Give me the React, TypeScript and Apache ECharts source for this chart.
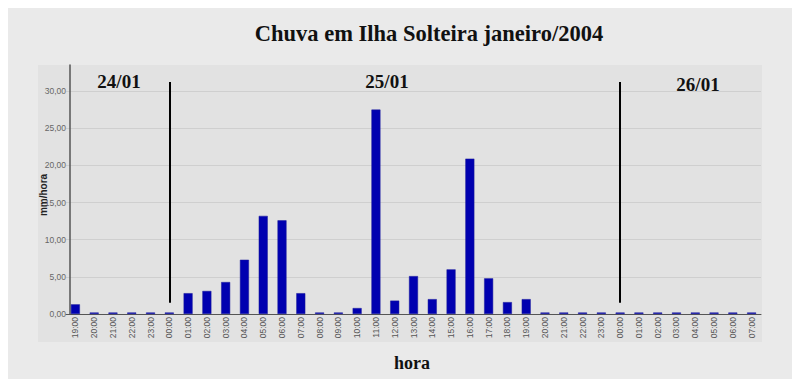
import React, { useEffect, useRef } from "react";
import * as echarts from "echarts";

const hours: string[] = [
  "19:00", "20:00", "21:00", "22:00", "23:00",
  "00:00", "01:00", "02:00", "03:00", "04:00", "05:00", "06:00", "07:00",
  "08:00", "09:00", "10:00", "11:00", "12:00", "13:00", "14:00", "15:00",
  "16:00", "17:00", "18:00", "19:00", "20:00", "21:00", "22:00", "23:00",
  "00:00", "01:00", "02:00", "03:00", "04:00", "05:00", "06:00", "07:00",
];

const rain: number[] = [
  1.3, 0.2, 0.2, 0.2, 0.2,
  0.2, 2.8, 3.1, 4.3, 7.3, 13.2, 12.6, 2.8,
  0.2, 0.2, 0.8, 27.5, 1.8, 5.1, 2.0, 6.0,
  20.9, 4.8, 1.6, 2.0, 0.2, 0.2, 0.2, 0.2,
  0.2, 0.2, 0.2, 0.2, 0.2, 0.2, 0.2, 0.2,
];

const dayLabels: string[] = ["24/01", "25/01", "26/01"];
const midnightIdx: number[] = [5, 29];
const yTicks: number[] = [0, 5, 10, 15, 20, 25, 30];

export default function App() {
  const ref = useRef<HTMLDivElement>(null);
  useEffect(() => {
    if (!ref.current) return;
    const chart = echarts.init(ref.current, undefined, { renderer: "svg" });
    const serif = "'Liberation Serif', 'Times New Roman', serif";
    const sans = "'Liberation Sans', Arial, sans-serif";
    const dayText = (text: string, x: number, y: number) => ({
      type: "text",
      x,
      y,
      style: {
        text,
        font: `bold 19px ${serif}`,
        fill: "#111",
        textAlign: "center",
        textVerticalAlign: "middle",
      },
    });
    chart.setOption({
      animation: false,
      backgroundColor: "#eaeaea",
      grid: { left: 66, right: 39, top: 65, bottom: 73, containLabel: false },
      xAxis: {
        type: "category",
        data: hours,
        boundaryGap: true,
        axisLine: { lineStyle: { color: "#555", width: 1 } },
        axisTick: { show: false },
        axisLabel: {
          rotate: 90,
          interval: 0,
          fontSize: 8.5,
          color: "#555",
          fontFamily: sans,
          margin: 3,
        },
        splitLine: { show: false },
      },
      yAxis: {
        type: "value",
        min: 0,
        max: 33.5,
        interval: 5,
        offset: -4,
        axisLine: { show: true, lineStyle: { color: "#555", width: 1.5 } },
        axisTick: { show: false },
        axisLabel: {
          fontSize: 8.5,
          color: "#666",
          fontFamily: sans,
          margin: 4,
          formatter: (v: number) =>
            yTicks.indexOf(v) >= 0 ? v.toFixed(2).replace(".", ",") : "",
        },
        splitLine: {
          show: true,
          lineStyle: {
            color: ["#cfcfcf", "#cfcfcf", "#cfcfcf", "#cfcfcf", "#cfcfcf", "#cfcfcf", "#cfcfcf", "rgba(0,0,0,0)"],
            width: 1,
          },
        },
      },
      graphic: [
        {
          type: "rect",
          z: -10,
          shape: { x: 38, y: 65, width: 724, height: 277 },
          style: { fill: "#e2e2e2" },
          silent: true,
        },
        {
          type: "text",
          x: 429,
          y: 33,
          style: {
            text: "Chuva em Ilha Solteira janeiro/2004",
            font: `bold 22.5px ${serif}`,
            fill: "#111",
            textAlign: "center",
            textVerticalAlign: "middle",
          },
        },
        dayText(dayLabels[0], 119, 81),
        dayText(dayLabels[1], 387, 81),
        dayText(dayLabels[2], 698, 84),
        {
          type: "text",
          x: 43,
          y: 195,
          rotation: Math.PI / 2,
          z: 10,
          style: {
            text: "mm/hora",
            font: `bold 10px ${sans}`,
            fill: "#222",
            textAlign: "center",
            textVerticalAlign: "middle",
          },
        },
        {
          type: "text",
          x: 412,
          y: 363,
          style: {
            text: "hora",
            font: `bold 18px ${serif}`,
            fill: "#111",
            textAlign: "center",
            textVerticalAlign: "middle",
          },
        },
      ],
      series: [
        {
          type: "bar",
          data: rain,
          barWidth: 9,
          itemStyle: { color: "#0000b0", borderColor: "#1a1a9a", borderWidth: 0.5 },
          emphasis: { disabled: true },
          markLine: {
            silent: true,
            symbol: "none",
            label: { show: false },
            lineStyle: { color: "#000", width: 2, type: "solid" },
            data: midnightIdx.map((i) => [
              { coord: [i, 31.2] },
              { coord: [i, 1.5] },
            ]),
          },
        },
      ],
    });
    return () => chart.dispose();
  }, []);
  return <div ref={ref} style={{ width: 800, height: 387, margin: -8 }} />;
}
